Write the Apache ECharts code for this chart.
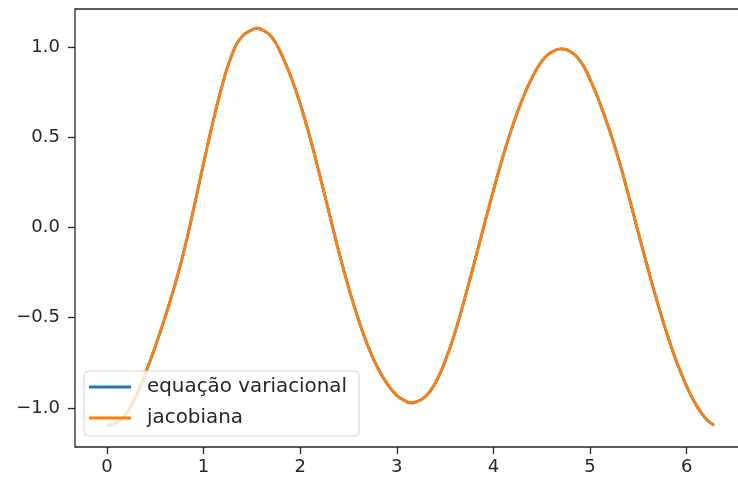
<!DOCTYPE html>
<html>
<head>
<meta charset="utf-8">
<script src="https://cdn.jsdelivr.net/npm/echarts@6/dist/echarts.min.js"></script>
<style>
  html, body { margin: 0; padding: 0; background: #ffffff; }
  #chart { width: 738px; height: 479px; }
</style>
</head>
<body>
<div id="chart"></div>
<script>
// time samples (x) and solution values (y) for both methods
const tValues = [
  0.0, 0.1, 0.2, 0.3, 0.4, 0.5, 0.6, 0.7, 0.8, 0.9,
  1.0, 1.1, 1.2, 1.3, 1.4, 1.5, 1.55, 1.6, 1.7, 1.8, 1.9,
  2.0, 2.1, 2.2, 2.3, 2.4, 2.5, 2.6, 2.7, 2.8, 2.9,
  3.0, 3.1, 3.15, 3.2, 3.3, 3.4, 3.5, 3.6, 3.7, 3.8, 3.9,
  4.0, 4.1, 4.2, 4.3, 4.4, 4.5, 4.6, 4.7, 4.8, 4.9,
  5.0, 5.1, 5.2, 5.3, 5.4, 5.5, 5.6, 5.7, 5.8, 5.9,
  6.0, 6.1, 6.2, 6.283
];
const variacionalValues = [
  -1.097, -1.080, -1.030, -0.935, -0.805, -0.660, -0.500, -0.325, -0.125,  0.110,
   0.355,  0.590,  0.800,  0.965,  1.058,  1.094,  1.103,  1.096,  1.058,  0.965,  0.840,
   0.685,  0.500,  0.295,  0.080, -0.135, -0.330, -0.505, -0.655, -0.775, -0.865,
  -0.930, -0.964, -0.972, -0.966, -0.935, -0.860, -0.740, -0.585, -0.400, -0.200,  0.005,
   0.205,  0.395,  0.565,  0.710,  0.830,  0.920,  0.970,  0.989,  0.972,  0.920,
   0.820,  0.690,  0.540,  0.370,  0.175, -0.030, -0.230, -0.420, -0.595, -0.750,
  -0.880, -0.985, -1.060, -1.095
];
const jacobianaValues = [
  -1.097, -1.080, -1.030, -0.935, -0.805, -0.660, -0.500, -0.325, -0.125,  0.110,
   0.355,  0.590,  0.800,  0.965,  1.058,  1.094,  1.103,  1.096,  1.058,  0.965,  0.840,
   0.685,  0.500,  0.295,  0.080, -0.135, -0.330, -0.505, -0.655, -0.775, -0.865,
  -0.930, -0.964, -0.972, -0.966, -0.935, -0.860, -0.740, -0.585, -0.400, -0.200,  0.005,
   0.205,  0.395,  0.565,  0.710,  0.830,  0.920,  0.970,  0.989,  0.972,  0.920,
   0.820,  0.690,  0.540,  0.370,  0.175, -0.030, -0.230, -0.420, -0.595, -0.750,
  -0.880, -0.985, -1.060, -1.095
];
const xTicks = [0, 1, 2, 3, 4, 5, 6];
const yTicks = [-1.0, -0.5, 0.0, 0.5, 1.0];
const seriesNames = ['equação variacional', 'jacobiana'];

const FONT = 'DejaVu Sans';
const pairs = ys => tValues.map((t, i) => [t, ys[i]]);
const fmtY = v => (v < 0 ? '\u2212' : '') + Math.abs(v).toFixed(1);

const chart = echarts.init(document.getElementById('chart'), null, { renderer: 'canvas' });
chart.setOption({
  animation: false,
  backgroundColor: '#ffffff',
  grid: {
    left: 75, top: 9, width: 671, height: 438,
    show: true, borderColor: '#262626', borderWidth: 1.3,
    backgroundColor: 'transparent',
    containLabel: false, outerBoundsMode: 'none'
  },
  xAxis: {
    type: 'value',
    min: -0.3306, max: 6.614,
    axisLine: { show: false, onZero: false },
    splitLine: { show: false },
    axisTick: {
      show: true, length: 7, inside: false, customValues: xTicks,
      lineStyle: { color: '#262626', width: 1.3 }
    },
    axisLabel: {
      customValues: xTicks, margin: 11,
      color: '#262626', fontFamily: FONT, fontSize: 18,
      formatter: v => String(v)
    }
  },
  yAxis: {
    type: 'value',
    min: -1.2158, max: 1.2097,
    axisLine: { show: false, onZero: false },
    splitLine: { show: false },
    axisTick: {
      show: true, length: 7, inside: false, customValues: yTicks,
      lineStyle: { color: '#262626', width: 1.3 }
    },
    axisLabel: {
      customValues: yTicks, margin: 15,
      color: '#262626', fontFamily: FONT, fontSize: 18,
      formatter: fmtY
    }
  },
  legend: {
    data: seriesNames,
    orient: 'vertical',
    left: 84, top: 371,
    padding: [5, 12, 7, 5],
    itemGap: 9,
    itemWidth: 42, itemHeight: 3,
    icon: 'rect',
    backgroundColor: 'rgba(255,255,255,0.8)',
    borderColor: 'rgba(204,204,204,0.8)',
    borderWidth: 1,
    borderRadius: 4,
    textStyle: {
      color: '#262626', fontFamily: FONT, fontSize: 19.9,
      lineHeight: 22, padding: [0, 0, 0, 11]
    }
  },
  series: [
    {
      name: seriesNames[0], type: 'line',
      data: pairs(variacionalValues),
      showSymbol: false, smooth: 0.5,
      color: '#1f77b4',
      lineStyle: { color: '#1f77b4', width: 2.8 }
    },
    {
      name: seriesNames[1], type: 'line',
      data: pairs(jacobianaValues),
      showSymbol: false, smooth: 0.5,
      color: '#ff7f0e',
      lineStyle: { color: '#ff7f0e', width: 2.8 }
    }
  ]
});
</script>
</body>
</html>
